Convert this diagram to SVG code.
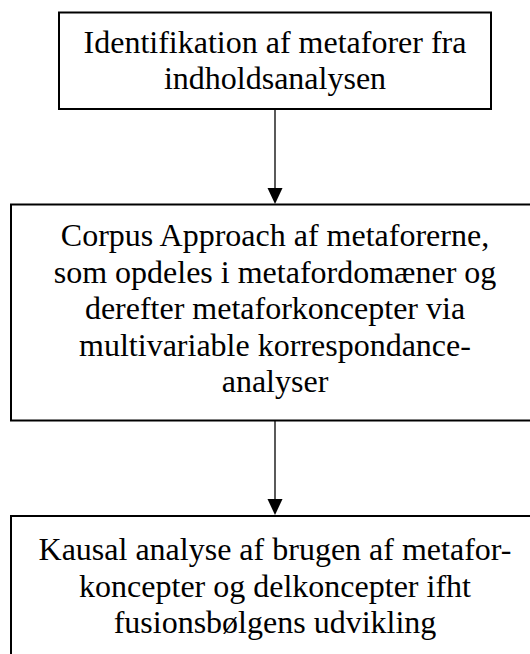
<svg xmlns="http://www.w3.org/2000/svg" width="530" height="654" viewBox="0 0 530 654">
<defs>
<style>
.box{fill:#fff;stroke:#000;stroke-width:2}
.t{font-family:"Liberation Serif","Times New Roman",serif;font-size:32px;fill:#000;text-anchor:middle}
.edge{stroke:#000;stroke-width:1.3;fill:none}
.head{fill:#000}
</style>
</defs>
<rect width="530" height="654" fill="#fff"/>
<g id="node1">
<rect class="box" x="59" y="12.5" width="432" height="96.5"/>
<text class="t" x="275" y="53">Identifikation af metaforer fra</text>
<text class="t" x="275" y="89">indholdsanalysen</text>
</g>
<g id="node2">
<rect class="box" x="11" y="204.5" width="530" height="216"/>
<text class="t" x="275" y="246">Corpus Approach af metaforerne,</text>
<text class="t" x="275" y="282.5">som opdeles i metafordomæner og</text>
<text class="t" x="275" y="319">derefter metaforkoncepter via</text>
<text class="t" x="275" y="355.5">multivariable korrespondance-</text>
<text class="t" x="275" y="392">analyser</text>
</g>
<g id="node3">
<rect class="box" x="11" y="516" width="530" height="200"/>
<text class="t" x="275" y="560">Kausal analyse af brugen af metafor-</text>
<text class="t" x="275" y="596.5">koncepter og delkoncepter ifht</text>
<text class="t" x="275" y="633">fusionsbølgens udvikling</text>
</g>
<g id="connectors">
<line class="edge" x1="275" y1="109" x2="275" y2="190"/>
<polygon class="head" points="267.5,188 282.5,188 275,204"/>
<line class="edge" x1="275" y1="420.5" x2="275" y2="500"/>
<polygon class="head" points="267.5,499 282.5,499 275,515"/>
</g>
</svg>
